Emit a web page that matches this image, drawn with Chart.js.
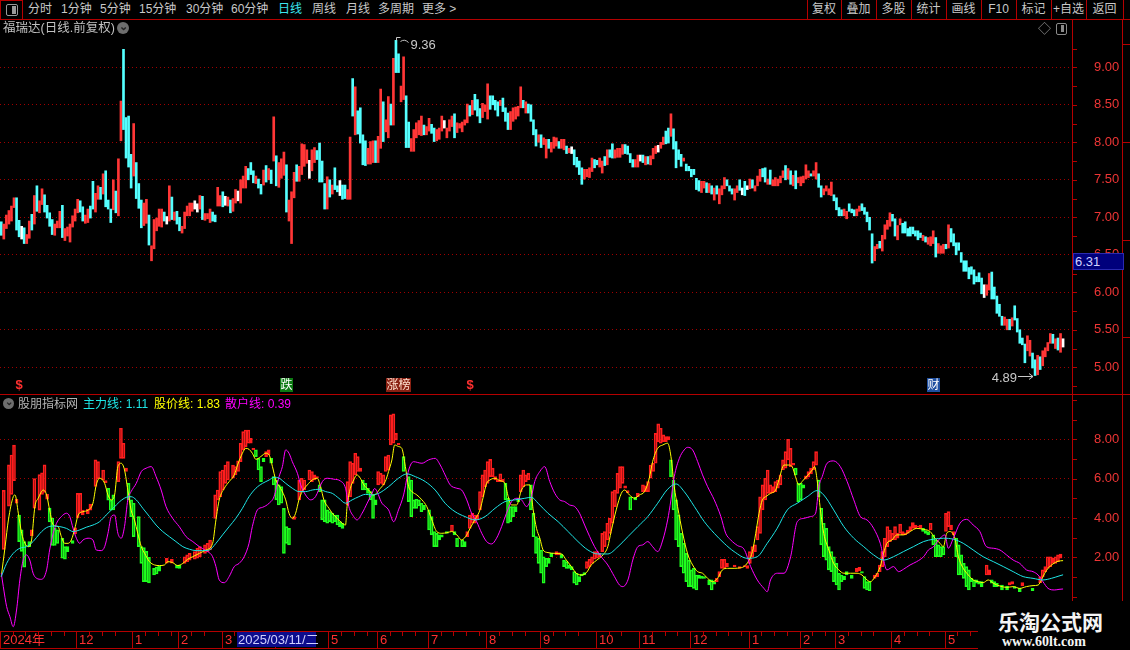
<!DOCTYPE html>
<html>
<head>
<meta charset="utf-8">
<title>福瑞达 日线</title>
<script src="https://cdn.jsdelivr.net/npm/chart.js@4.4.1/dist/chart.umd.min.js"></script>
<style>
  body { margin: 0; background: #000; }
  #wrap { position: relative; width: 1130px; height: 650px; overflow: hidden; background: #000;
          font-family: "Liberation Sans", "Noto Sans CJK SC", sans-serif; }
  .a { position: absolute; white-space: nowrap; }
  .tb { top: 1px; font-size: 12px; color: #c8c8c8; line-height: 17px; }
  .vl { position: absolute; width: 1px; background: #b40000; }
  .hl { position: absolute; height: 1px; background: #b40000; }
  canvas { position: absolute; left: 0; }
</style>
</head>
<body>
<div id="wrap">
  <canvas id="priceChart" width="1130" height="382" style="top:20px"></canvas>
  <canvas id="indChart" width="1130" height="250" style="top:387px"></canvas>
  <div id="overlay"></div>
</div>
<script>
// ---- price candles (one per trading day) ----
const dirs =
  "crrrrrccwc" + "rrcrcrrccc" + "crrrcrrrrr" + "rccrrccrrc" + "rcccrcrrcc" +
  "ccrcccrrcr" + "rrrrcwrcrc" + "crrrrrwwrc" + "rrrccrrcwr" + "crrwrrrccc" +
  "rccrcrcrcr" + "rrcrrrcrrr" + "rwrrccccrc" + "rccwccrrc" +
  "rccccrrrcr" + "rcrrcrccrr" + "ccrrrrrcrr" + "ccrrrwrrrc" + "rrrrrcrccc" +
  "rrrccccrcc" + "crrrrrcrcc" + "ccrcrrcrrr" + "crrcrwcccc" + "rrrrccrrcr" +
  "ccrrrrcccc" + "rrwcrcrrrw" + "rrccrccccr" + "ccccccrrcrc" +
  "rcrrrcccrr" + "cwcwrcrrrc" + "crcrrrrrcr" + "crcrrrrrcr" + "rccrrrrccc" +
  "crrcccrrcc" + "cccrrcrrrr" + "ccrrcccccc" + "ccrcrrrcrr" + "rcrccccccc" +
  "ccccccwrrc" + "ccccrrcrcc" + "cccrrccrcr" + "rrrcrcrw";

const highs = [
  6.94,6.91,7.03,7.09,7.15,7.26,7.26,6.96,6.88,6.86, 6.77,6.95,7.04,7.29,7.42,7.22,7.38,7.30,7.16,7.06,
  6.97,6.91,6.95,7.08,7.16,6.85,6.87,6.91,7.02,7.11, 7.24,7.22,7.14,7.03,7.11,7.15,7.48,7.32,7.42,7.40,
  7.58,7.62,7.23,7.11,7.50,7.35,7.78,8.55,9.24,8.33, 8.35,7.84,8.25,7.73,7.45,7.23,7.19,7.24,7.03,6.62,
  6.97,6.99,7.11,7.11,7.07,7.01,7.42,7.27,7.07,7.08, 7.00,6.88,7.07,7.15,7.19,7.19,7.22,7.18,7.29,7.28,
  7.05,7.05,7.11,7.07,7.03,7.40,7.29,7.34,7.28,7.27, 7.23,7.25,7.37,7.35,7.50,7.55,7.68,7.65,7.73,7.62,
  7.55,7.51,7.44,7.63,7.69,7.65,7.63,8.34,7.82,7.73, 7.78,7.87,7.70,7.23,7.34,7.60,7.70,7.68,7.98,7.97,
  7.90,7.76,7.90,7.93,7.89,7.99,7.75,7.45,7.54,7.50, 7.43,7.66,7.42,7.49,7.43,7.43,7.37,8.07,8.85,
  8.74,8.42,8.46,8.10,8.02,7.92,8.01,8.02,8.02,8.08, 8.71,8.54,8.30,8.61,8.51,9.12,9.36,9.18,8.75,9.14,
  8.62,8.27,8.05,8.17,8.26,8.29,8.35,8.23,8.21,8.32, 8.24,8.19,8.17,8.19,8.35,8.29,8.19,8.30,8.35,8.38,
  8.26,8.25,8.27,8.30,8.51,8.49,8.56,8.64,8.57,8.45, 8.52,8.50,8.78,8.62,8.62,8.56,8.54,8.56,8.59,8.46,
  8.39,8.41,8.46,8.47,8.48,8.74,8.56,8.54,8.51,8.50, 8.30,8.17,8.10,8.10,8.06,8.04,8.04,8.00,8.07,8.06,
  8.01,8.04,8.04,7.95,7.92,7.94,7.90,7.80,7.75,7.66, 7.64,7.64,7.66,7.79,7.77,7.76,7.79,7.75,7.81,7.90,
  7.90,7.98,7.90,7.92,7.92,7.97,7.97,7.95,7.85,7.77, 7.77,7.83,7.83,7.83,7.81,7.81,7.82,7.92,7.95,7.96,
  8.00,8.07,8.15,8.19,8.38,8.18,8.01,7.90,7.84,7.79, 7.71,7.68,7.64,7.64,7.52,7.49,7.48,7.48,7.46,7.45,7.42,
  7.39,7.42,7.38,7.42,7.53,7.50,7.42,7.38,7.38,7.42, 7.50,7.39,7.48,7.42,7.51,7.50,7.42,7.55,7.64,7.65,
  7.66,7.51,7.63,7.50,7.53,7.51,7.55,7.62,7.69,7.65, 7.62,7.56,7.62,7.53,7.54,7.55,7.70,7.62,7.58,7.62,
  7.73,7.58,7.42,7.38,7.42,7.38,7.47,7.30,7.26,7.13, 7.10,7.11,7.08,7.18,7.11,7.10,7.11,7.15,7.18,7.13,
  7.07,7.00,6.78,6.61,6.64,6.68,6.76,6.90,6.96,7.06, 7.04,6.98,6.89,6.98,6.92,6.94,6.85,6.87,6.87,6.82,
  6.82,6.79,6.76,6.74,6.73,6.74,6.82,6.73,6.65,6.62, 6.64,6.64,6.90,6.85,6.78,6.66,6.66,6.53,6.42,6.42,
  6.33,6.34,6.30,6.21,6.26,6.19,6.10,6.10,6.25,6.27, 6.07,5.95,5.84,5.68,5.67,5.64,5.64,5.66,5.82,5.65,
  5.50,5.39,5.31,5.42,5.36,5.19,5.10,5.16,5.14,5.22, 5.26,5.33,5.45,5.44,5.38,5.39,5.45,5.38
];

const lows = [
  6.76,6.71,6.85,6.91,6.95,7.13,6.83,6.74,6.71,6.65, 6.65,6.72,6.83,6.91,7.08,7.06,7.17,7.07,6.99,6.88,
  6.77,6.76,6.86,6.86,6.73,6.69,6.75,6.67,6.87,6.95, 7.06,7.07,6.95,6.92,6.93,6.99,7.11,7.07,7.24,7.24,
  7.31,7.14,7.11,6.93,7.10,7.06,7.02,8.02,8.17,7.79, 7.67,7.39,7.55,7.25,7.12,6.86,6.89,6.92,6.63,6.42,
  6.58,6.82,6.88,6.87,6.95,6.91,6.95,6.97,6.96,6.91, 6.82,6.79,6.85,7.02,7.02,7.08,7.11,7.07,7.11,6.97,
  6.96,6.98,6.93,6.95,6.94,7.15,7.15,7.14,7.16,7.15, 7.06,7.08,7.19,7.22,7.19,7.39,7.39,7.50,7.57,7.46,
  7.45,7.39,7.31,7.43,7.47,7.50,7.45,7.75,7.42,7.40, 7.52,7.56,7.07,6.95,6.65,7.26,7.48,7.48,7.57,7.68,
  7.72,7.52,7.62,7.73,7.77,7.47,7.47,7.11,7.11,7.27, 7.31,7.37,7.34,7.29,7.24,7.25,7.24,7.24,8.35,
  8.10,8.11,7.99,7.70,7.69,7.71,7.71,7.73,7.73,7.73, 7.92,8.01,8.14,8.06,8.23,8.23,8.93,8.93,8.54,8.57,
  7.93,7.93,7.88,7.88,8.06,8.10,8.09,8.10,8.10,8.15, 8.12,8.01,8.02,8.04,8.15,8.19,8.06,8.15,8.21,8.06,
  8.13,8.19,8.14,8.23,8.26,8.35,8.37,8.43,8.35,8.26, 8.33,8.41,8.31,8.44,8.50,8.43,8.35,8.49,8.41,8.28,
  8.17,8.17,8.28,8.31,8.35,8.46,8.46,8.39,8.39,8.28, 8.10,7.95,8.00,7.93,7.97,7.79,7.92,7.87,7.92,7.95,
  7.92,7.92,7.90,7.85,7.86,7.85,7.70,7.67,7.57,7.44, 7.51,7.54,7.53,7.61,7.66,7.70,7.67,7.59,7.69,7.70,
  7.80,7.79,7.79,7.80,7.80,7.84,7.85,7.84,7.73,7.67, 7.67,7.67,7.75,7.73,7.70,7.71,7.70,7.78,7.85,7.87,
  7.92,7.97,7.98,7.99,8.08,7.91,7.66,7.77,7.68,7.75, 7.62,7.62,7.54,7.57,7.37,7.35,7.33,7.39,7.33,7.33,7.31,
  7.23,7.31,7.18,7.30,7.38,7.42,7.35,7.31,7.23,7.33, 7.36,7.30,7.29,7.37,7.38,7.39,7.35,7.42,7.48,7.54,
  7.47,7.44,7.44,7.42,7.42,7.42,7.46,7.53,7.50,7.51, 7.44,7.42,7.38,7.46,7.42,7.46,7.51,7.53,7.55,7.55,
  7.51,7.40,7.27,7.30,7.35,7.30,7.29,7.22,7.10,7.02, 7.02,7.02,6.98,7.08,7.06,7.02,7.02,7.08,7.09,7.04,
  6.94,6.83,6.39,6.42,6.58,6.59,6.55,6.71,6.84,6.88, 6.95,6.75,6.70,6.90,6.79,6.79,6.75,6.75,6.78,6.75,
  6.70,6.73,6.69,6.67,6.64,6.62,6.65,6.47,6.52,6.52, 6.52,6.58,6.59,6.67,6.62,6.50,6.56,6.40,6.28,6.28,
  6.18,6.24,6.11,6.14,6.14,5.98,5.93,5.96,6.03,5.91, 5.91,5.72,5.68,5.56,5.56,5.50,5.50,5.55,5.63,5.47,
  5.32,5.30,5.06,5.22,5.15,4.99,4.89,4.90,4.97,5.02, 5.14,5.22,5.32,5.32,5.25,5.23,5.20,5.27
];

// ---- indicator lines: [candle index, value] ----
const mainForce = [ // 主力线
  [0,1.02],[2.1,1.69],[4.7,2.2],[7.3,2.46],[9.9,2.54],[12.5,2.8],[15.2,3.22],[17.8,3.51],[20.4,3.59],[23,3.56],
  [25.6,3.47],[28.2,3.31],[30.8,3.39],[33.4,3.53],[36,3.64],[38.6,3.81],[41.2,4.15],[43.9,4.49],[46.5,4.83],[49.1,5.05],
  [51,5.08],[53,4.92],[55.6,4.49],[58.2,4.07],[60.8,3.64],[63.4,3.31],[66,3.05],[68.6,2.8],[71.3,2.54],[73.9,2.41],
  [76.5,2.34],[79.1,2.34],[81.7,2.37],[84.3,2.71],[86.9,3.14],[89.5,3.56],[92.1,3.98],[94.7,4.49],[97.3,5.08],[100,5.51],
  [102.6,5.76],[105.2,5.93],[107.1,6.07],[109.1,6.02],[111.7,5.76],[114.3,5.51],[116.9,5.34],[119.5,5.34],[122.1,5.42],[124.7,5.46],
  [127.4,5.34],[130,5.25],[132.6,5.0],[135.2,4.75],[137.8,4.92],[140.4,5.08],[143,5.2],[145.6,5.17],[148.2,5.25],[152.1,5.59],
  [156,6.02],[159.3,6.24],[162.6,6.1],[166.5,5.85],[170.4,5.42],[174.3,4.75],[178.2,4.32],[182.1,4.07],[186.1,3.9],[190,4.07],
  [193.9,4.49],[197.8,4.83],[201.7,4.92],[205.6,5.0],[208.2,5.05],[210.8,4.75],[214.7,4.24],[218.7,3.81],[222.6,3.31],[226.5,2.8],
  [230.4,2.37],[234.3,2.17],[238.2,2.17],[242.2,2.54],[246.1,3.05],[250,3.56],[253.9,4.07],[257.8,4.75],[261.7,5.46],[265,5.73],
  [268.2,5.34],[272.2,4.58],[276.1,3.81],[280,3.22],[283.9,2.71],[287.8,2.29],[293,1.95],[296.9,2.03],[300.8,2.71],[304.7,3.47],
  [308.7,4.41],[312.6,4.75],[316.5,5.08],[320.4,5.39],[323,5.17],[326.9,4.41],[330.9,3.56],[334.8,2.97],[338.7,2.54],[342.6,2.12],
  [346.5,1.86],[350.4,2.03],[354.3,2.29],[358.2,2.54],[362.2,2.8],[366.1,2.92],[370,2.97],[373.9,2.92],[377.8,2.71],[381.7,2.37],
  [385.6,2.03],[389.6,1.78],[393.5,1.53],[397.4,1.27],[401.3,1.02],[405.2,0.93],[409.1,0.85],[412.4,0.93],[415.4,1.05],[417,1.11]
];

const stockLine = [ // 股价线
  [0,1.02],[1.5,2.54],[2.8,3.9],[4.7,5.08],[5.4,5.17],[6.7,4.24],[8,3.22],[9.3,2.71],[10.6,2.54],[11.9,2.88],
  [13.2,4.58],[14.5,5.0],[16.5,5.42],[17.8,5.17],[19,4.4],[20.4,3.64],[22.3,3.56],[23.6,3.05],[24.9,2.71],[26.2,2.71],
  [27.5,2.88],[28.9,3.47],[30.2,4.15],[32.1,4.32],[34.1,4.4],[36,4.75],[37.3,5.68],[38.6,6.02],[40.6,5.76],[41.9,5.17],
  [43.2,4.92],[44.5,5.17],[45.8,6.61],[47.1,6.78],[48.4,6.44],[49.7,5.42],[51,4.4],[52.3,3.9],[53.6,3.22],[55,2.54],
  [56.3,2.2],[58.2,1.78],[60.2,1.61],[62.1,1.58],[64.1,1.61],[65.4,1.78],[67.3,1.73],[69.3,1.58],[71.3,1.69],[73.2,1.9],
  [75.2,2.03],[77.8,2.2],[80.4,2.37],[83,2.71],[84.3,3.9],[85.6,4.92],[87.6,5.51],[89.5,5.85],[91.5,6.19],[92.8,6.69],
  [94.7,7.29],[96,7.54],[97.3,7.49],[98.6,7.29],[100,6.98],[101.9,7.12],[103.9,7.29],[105.2,7.2],[106.5,6.61],[107.8,5.93],
  [109.7,5.51],[111.7,4.92],[113,4.24],[114.3,3.98],[115.6,4.24],[116.9,4.92],[118.2,5.34],[120.2,5.68],[122.1,5.93],[124.1,6.02],
  [125.4,5.59],[126.7,4.92],[128.7,4.49],[130,4.24],[131.9,3.98],[133.9,3.73],[135.2,3.64],[135.8,4.58],[137.1,5.51],[138.4,5.93],
  [139.7,6.19],[141,6.02],[142.4,5.68],[144.3,5.42],[146.3,5.17],[148.9,5.51],[150.8,5.85],[152.1,6.36],[153.4,6.95],[154.5,7.71],
  [156,7.63],[157.3,7.54],[158.7,6.61],[160,5.59],[161.3,5.34],[163.2,5.17],[165.2,4.92],[167.1,4.58],[169.1,3.9],[171,3.31],
  [173,3.22],[175,3.25],[176.9,3.31],[178.9,3.14],[180.8,2.88],[182.8,3.14],[184.1,3.47],[186.1,3.93],[188,4.41],[189.3,5.08],
  [190.6,5.76],[191.9,5.93],[193.9,6.02],[195.8,5.9],[197.8,5.76],[199.1,5.08],[200.4,4.66],[202.4,4.66],[204.3,5.42],[206.3,5.68],
  [207.6,5.68],[208.9,4.41],[210.2,3.47],[211.5,2.97],[212.8,2.37],[214.7,2.24],[217.4,2.2],[220,2.17],[221.9,1.86],[223.9,1.53],
  [225.8,1.19],[227.8,1.1],[229.8,1.22],[231.7,1.61],[234.3,1.9],[236.3,2.12],[238.2,2.54],[239.5,3.31],[241.5,4.41],[243.5,5.25],
  [244.8,5.42],[246.7,5.17],[248.7,5.0],[250.6,5.17],[252.6,5.34],[254.5,6.02],[255.8,6.86],[257.8,7.54],[259.8,7.71],[261.7,7.8],
  [263,7.12],[264.3,5.59],[265.6,4.58],[267.6,3.22],[269.5,2.2],[271.5,1.61],[273.5,1.27],[275.4,1.19],[277.4,0.93],[279.3,0.76],
  [281.3,0.93],[283.2,1.36],[285.2,1.44],[287.8,1.44],[290.4,1.47],[291.7,1.53],[293.7,1.86],[295,2.29],[296.3,3.22],[297.6,4.24],
  [298.9,4.92],[300.2,5.08],[302.1,5.25],[304.1,5.42],[305.4,5.93],[307.4,6.69],[309.3,6.69],[310.6,6.61],[311.9,6.1],[313.2,5.68],
  [314.5,5.85],[316.5,6.14],[318.5,6.44],[319.4,6.61],[320.4,5.93],[321.7,4.41],[323,3.22],[325,2.37],[326.9,1.69],[328.9,1.36],
  [330.9,1.19],[333.5,1.19],[336.1,1.19],[338,1.1],[340,0.85],[341.3,0.76],[343.2,1.02],[345.2,1.53],[346.5,2.2],[347.8,2.71],
  [349.8,2.88],[351.7,3.14],[354.3,3.14],[356.9,3.31],[359.5,3.47],[362.2,3.42],[364.8,3.31],[366.7,2.97],[368.7,2.71],[370,2.54],
  [371.3,3.22],[372.6,3.31],[374.5,2.97],[375.9,2.03],[377.8,1.44],[379.8,1.1],[381.7,0.85],[383.7,0.76],[385.6,0.71],[387.6,0.85],
  [389.6,0.68],[392.2,0.54],[394.8,0.47],[397.4,0.51],[400,0.42],[402.6,0.51],[405.2,0.56],[407.2,0.59],[408.5,0.85],[409.8,1.19],
  [411.1,1.44],[413,1.66],[415,1.8],[417,1.83]
];

const retailLine = [ // 散户线
  [0,1.19],[0.8,0.51],[2.1,-0.5],[3.4,-1.02],[4.7,-1.53],[6,-0.68],[7.3,0.85],[8.6,1.86],[9.9,2.12],[11.2,1.86],
  [12.5,1.19],[13.9,0.93],[15.8,0.88],[17.8,1.36],[19,2.37],[20.4,3.22],[21.7,3.73],[23.6,4.07],[25.6,4.24],[26.9,4.07],
  [28.2,3.47],[29.5,2.97],[30.8,2.71],[32.1,2.88],[34.1,2.97],[36,2.88],[37.3,2.37],[39.3,2.34],[40.6,2.54],[41.9,3.22],
  [43.2,4.07],[44.5,4.15],[45.8,3.22],[47.1,2.97],[48.4,3.56],[49.7,4.92],[51,5.34],[53,5.76],[55,6.36],[56.9,6.53],
  [58.9,6.61],[60.8,6.1],[62.8,5.42],[64.7,4.58],[67.3,3.98],[69.9,3.56],[72.6,3.05],[75.2,2.8],[77.8,2.54],[80.4,2.34],
  [83,2.03],[84.3,1.53],[85.6,0.85],[87.6,0.71],[89.5,1.02],[91.5,1.53],[93.4,1.69],[95.4,2.03],[97.3,2.71],[98.6,3.56],
  [100.6,4.41],[102.6,4.54],[105.2,4.75],[107.1,5.08],[109.1,6.1],[110.4,6.61],[111.7,7.46],[113,7.29],[114.3,6.86],[116.3,6.27],
  [117.6,5.68],[119.5,5.17],[121.5,4.92],[123.4,5.08],[126.1,5.85],[128,6.02],[130.6,5.97],[133.2,5.88],[135.2,5.51],[136.5,4.58],
  [138.4,4.07],[139.7,3.9],[141.7,4.24],[143.7,4.75],[145.6,5.25],[146.6,5.5],[149.5,4.75],[152.1,4.41],[154.1,3.81],[156,4.41],
  [158,5.17],[160,6.44],[161.9,6.86],[165.2,6.78],[167.8,6.95],[170.4,7.03],[172.4,6.69],[174.3,6.19],[176.3,5.68],[178.9,5.51],
  [180.8,5.42],[182.8,4.92],[184.7,4.24],[186.7,3.81],[188.7,3.22],[190.6,2.8],[192.6,2.68],[194.5,2.97],[196.5,3.56],[198.4,4.24],
  [200.4,4.83],[202.4,5.0],[204.3,4.92],[206.3,4.58],[208.2,5.08],[209.5,5.85],[211.5,6.36],[213.4,6.61],[215.4,5.85],[217.4,5.25],
  [219.3,4.92],[221.3,4.83],[223.2,4.66],[225.2,4.58],[227.1,4.24],[229.1,3.64],[231.1,3.05],[233,2.54],[235.6,2.03],[238.2,1.61],
  [240.8,1.02],[242.8,0.59],[244.1,0.51],[246.1,0.85],[248,1.86],[250,2.54],[251.9,2.63],[253.9,2.8],[255.8,2.54],[257.8,2.29],
  [259.8,2.88],[261.7,3.9],[263,4.92],[264.3,6.1],[266.3,7.03],[268.2,7.46],[269.5,7.59],[271.5,7.46],[273.5,6.86],[275.4,6.19],
  [277.4,5.59],[280,4.92],[282.6,4.07],[284.5,3.22],[286.5,2.88],[289.1,2.6],[291.7,2.41],[294.3,1.53],[296.9,0.85],[299.5,0.42],
  [300.8,0.25],[302.1,0.85],[304.8,1.19],[307.4,1.19],[310,2.03],[312.6,3.81],[315.2,3.98],[317.8,4.07],[319.8,4.24],[321.1,5.59],
  [322.4,6.1],[324.3,6.78],[326.9,6.9],[329.5,6.61],[332.2,5.85],[334.8,4.92],[337.4,4.07],[340,3.9],[342.6,3.47],[345.2,2.71],
  [347.8,1.36],[350.4,1.53],[352.4,1.27],[354.3,1.39],[356.9,1.61],[359.5,1.78],[362.2,2.03],[364.1,2.37],[366.1,2.54],[368.7,2.97],
  [370.6,3.14],[371.9,2.46],[373.9,2.97],[376.5,3.73],[379.1,3.93],[381.7,3.64],[384.3,3.31],[386.9,2.54],[389.6,2.46],[392.2,2.37],
  [394.8,2.12],[397.4,1.86],[400,1.69],[402.6,1.36],[405.2,1.27],[407.2,1.1],[409.1,0.76],[411.1,0.42],[413.7,0.34],[415.4,0.37],
  [417,0.39]
];

// ---- indicator bars: [candle index, low, high] ----
const redBars = [
  [1,2.4,5.4],[3,4.6,6.7],[4,5.2,7.2],[5,5.9,7.7],[6,4.75,4.95],[12,3.1,3.4],[13,4.5,6.0],[15,4.4,6.2],[16,5.2,6.3],[17,5.3,6.7],
  [18,4.95,5.2],[29,3.2,3.5],[30,4.0,5.25],[31,4.24,5.25],[32,4.15,4.4],[34,4.2,4.45],[35,4.4,4.7],[37,5.6,6.95],[38,6.0,6.86],[40,5.93,6.44],
  [41,5.8,5.9],[46,5.85,6.86],[47,7.03,8.56],[48,7.03,7.8],[49,6.36,6.53],[65,1.7,1.95],[67,1.7,1.9],[72,1.69,2.03],[73,1.78,2.12],[74,1.86,2.2],
  [76,1.9,2.29],[77,1.95,2.46],[78,2.03,2.54],[80,2.2,2.63],[81,2.29,2.71],[82,2.37,2.88],[84,3.98,5.17],[85,4.92,5.42],[86,5.08,6.36],[87,5.42,6.44],
  [88,5.76,6.69],[89,5.93,6.86],[91,6.02,6.69],[92,6.19,6.61],[93,6.36,6.9],[94,6.86,7.8],[95,7.46,8.39],[96,7.63,8.47],[97,7.8,8.47],[98,7.8,8.05],
  [99,7.46,7.54],[104,7.12,7.37],[105,7.2,7.46],[115,3.93,4.07],[117,4.92,5.93],[118,5.34,6.02],[119,5.42,5.93],[121,5.93,6.44],[122,5.85,6.36],[123,5.93,6.19],
  [124,6.02,6.1],[136,4.66,5.85],[137,5.08,6.86],[138,5.76,6.78],[139,6.19,7.29],[140,6.36,7.12],[141,6.36,6.53],[148,5.68,6.36],[149,5.76,6.27],[150,5.68,6.19],
  [151,6.36,7.12],[152,6.44,7.2],[153,7.71,9.24],[154,7.8,9.29],[155,7.97,8.3],[156,7.71,7.8],[177,3.31,3.64],[183,3.05,3.31],[184,3.47,4.15],[185,3.73,4.24],
  [186,3.73,4.15],[187,3.9,4.15],[188,4.41,5.34],[189,5.08,6.19],[190,5.59,6.44],[191,5.76,6.86],[192,6.1,6.98],[193,6.1,6.53],[194,5.93,6.1],[195,5.85,5.93],
  [196,5.85,6.24],[197,5.85,5.97],[204,5.34,6.19],[205,5.59,6.44],[206,5.85,6.19],[207,5.93,6.27],[218,2.12,2.29],[219,2.12,2.24],[230,1.44,1.78],[231,1.53,1.9],
  [232,1.69,2.03],[233,1.9,2.29],[234,1.95,2.29],[235,2.03,2.2],[236,2.29,3.22],[237,2.54,3.31],[238,2.88,3.73],[239,3.22,3.98],[240,3.73,5.34],[241,4.58,5.42],
  [242,5.25,6.27],[243,5.51,6.61],[244,5.76,6.61],[245,5.51,5.63],[246,5.29,5.39],[250,5.08,5.25],[252,5.34,5.68],[253,5.34,5.63],[254,5.34,5.85],[255,6.02,6.69],
  [256,6.36,6.78],[257,6.78,8.3],[258,7.88,8.78],[259,7.8,8.56],[260,7.88,8.22],[261,7.88,8.14],[262,7.97,8.14],[281,0.76,0.93],[282,1.02,1.27],[283,1.44,1.9],
  [284,1.44,1.9],[285,1.53,1.69],[288,1.53,1.61],[290,1.44,1.53],[292,1.53,1.58],[293,1.44,1.58],[294,1.69,2.29],[295,2.03,2.54],[296,2.29,2.63],[297,2.88,3.56],
  [298,3.22,5.08],[299,4.41,5.68],[300,4.92,6.02],[301,5.25,6.44],[302,5.25,5.68],[303,5.29,5.59],[304,5.34,5.85],[305,5.51,5.93],[306,5.68,6.19],[307,6.44,6.95],
  [308,6.53,7.37],[309,6.95,8.0],[310,6.61,7.54],[311,6.69,6.78],[316,5.97,6.14],[317,6.07,6.36],[318,6.24,6.53],[319,6.44,6.86],[320,6.69,7.37],[336,1.27,1.44],
  [337,1.32,1.49],[343,0.93,1.1],[344,1.02,1.19],[345,1.27,1.61],[346,1.53,2.29],[347,2.03,2.97],[348,2.54,3.56],[349,2.8,3.39],[350,2.88,3.22],[351,2.88,3.56],
  [352,2.97,3.22],[353,3.22,3.69],[354,3.14,3.31],[355,3.14,3.25],[356,3.22,3.39],[357,3.36,3.56],[358,3.47,3.76],[359,3.47,3.64],[360,3.53,3.59],[361,3.47,3.64],
  [365,3.39,3.73],[371,3.31,4.24],[372,3.56,4.32],[373,3.39,3.64],[374,3.14,3.31],[387,1.1,1.61],[388,1.1,1.36],[396,0.59,0.71],[397,0.64,0.76],[401,0.54,0.71],
  [408,0.71,1.02],[409,1.02,1.36],[410,1.27,1.53],[411,1.44,2.03],[412,1.53,2.03],[413,1.69,1.95],[414,1.69,2.03],[415,1.78,2.12],[416,1.95,2.17]
];

const greenBars = [
  [7,2.8,4.15],[8,2.3,3.4],[9,1.5,2.8],[11,2.54,2.8],[19,3.8,4.5],[20,2.6,4.0],[21,2.6,3.5],[22,2.7,3.4],[24,1.95,2.97],[25,1.9,2.54],
  [26,2.29,2.54],[28,2.7,2.85],[42,4.9,5.5],[43,4.4,4.9],[44,4.41,5.17],[50,4.92,5.76],[51,4.07,4.92],[52,3.05,4.75],[54,2.54,4.07],[55,1.69,2.54],
  [56,0.76,2.5],[57,0.76,2.3],[58,0.7,2.0],[60,1.1,1.44],[61,1.15,1.5],[62,1.3,1.55],[69,1.45,1.6],[70,1.44,1.6],[100,7.12,7.46],[101,6.44,7.03],
  [102,5.85,6.61],[103,6.86,7.03],[106,6.78,7.03],[107,5.68,6.1],[108,4.92,5.93],[109,4.66,5.68],[110,4.75,5.59],[111,2.2,4.49],[112,2.71,3.56],[113,2.63,3.47],
  [125,5.34,5.68],[126,3.9,4.92],[127,3.81,4.92],[128,3.73,4.41],[129,3.81,4.32],[130,3.73,4.24],[131,3.81,4.15],[132,3.64,4.15],[133,3.56,3.81],[134,3.47,3.73],
  [142,5.42,5.93],[143,5.42,5.76],[144,5.25,5.51],[145,4.92,5.34],[146,3.98,5.17],[147,4.66,4.92],[158,6.36,7.12],[160,4.83,6.1],[161,4.07,5.93],[162,4.49,4.92],
  [163,4.49,4.95],[164,4.61,4.92],[165,4.32,4.75],[166,4.41,4.66],[168,3.39,4.41],[169,3.14,4.07],[170,2.54,3.31],[171,2.54,3.22],[172,2.88,3.14],[173,3.02,3.14],
  [175,3.22,3.31],[178,3.14,3.31],[179,2.54,2.97],[181,2.54,2.88],[182,2.54,2.8],[198,4.92,5.76],[199,3.73,5.0],[200,3.81,4.58],[201,4.07,4.58],[202,4.32,4.58],
  [203,4.83,5.0],[208,4.41,5.68],[209,3.05,4.24],[210,2.2,3.05],[211,1.69,2.97],[212,1.19,2.37],[213,0.68,2.03],[214,1.53,1.95],[215,1.69,1.95],[216,2.03,2.2],
  [220,1.95,2.17],[221,1.53,1.86],[222,1.44,1.78],[223,1.44,1.61],[224,1.36,1.53],[225,0.68,1.27],[226,0.59,1.19],[227,0.76,1.02],[228,1.05,1.15],[229,1.1,1.22],
  [247,4.41,5.08],[249,4.92,5.05],[263,6.1,6.95],[264,4.41,5.93],[265,2.88,4.92],[266,2.54,4.15],[267,1.53,3.22],[268,1.19,2.71],[269,0.76,2.2],[270,0.51,1.86],
  [271,0.51,1.36],[272,0.42,1.44],[273,0.34,1.1],[274,0.93,1.1],[275,0.93,1.05],[276,0.93,1.02],[278,0.59,0.85],[279,0.34,0.85],[280,0.64,0.76],[312,6.19,6.53],
  [313,4.83,5.76],[314,4.92,5.76],[315,5.51,5.68],[321,5.08,5.93],[322,2.63,4.49],[323,2.03,3.73],[324,1.86,3.47],[325,1.36,2.54],[326,1.27,2.29],[327,0.76,2.03],
  [328,0.59,1.69],[329,0.34,1.19],[330,0.76,1.1],[331,0.85,1.05],[332,1.1,1.27],[334,0.93,1.1],[338,1.19,1.27],[339,0.42,1.02],[340,0.34,0.76],[341,0.3,0.76],
  [362,3.31,3.47],[363,3.22,3.36],[364,3.14,3.31],[366,2.63,3.14],[367,2.03,2.88],[368,2.03,2.63],[369,2.03,2.54],[370,2.12,2.54],[375,2.03,2.97],[376,1.1,2.63],
  [377,1.1,2.12],[378,0.93,1.69],[379,0.51,1.53],[380,0.34,1.36],[381,0.76,0.93],[382,0.51,0.85],[383,0.68,0.85],[384,0.64,0.76],[385,0.51,0.76],[389,0.68,0.85],
  [390,0.51,0.76],[391,0.51,0.68],[393,0.34,0.59],[395,0.34,0.54],[398,0.42,0.51],[400,0.25,0.42],[405,0.3,0.42]
];

// ---- time axis: first candle of each month ----
const monthStarts = [0, 30, 52, 70, 87, 108, 129, 148, 168, 191, 212, 234, 251, 271, 294, 314, 328, 350, 371];
const monthLabels = ['2024年','12','1','2','3','4','5','6','7','8','9','10','11','12','1','2','3','4','5'];

// event flags above the indicator panel
const events = [[7,'$','d'],[112,'跌','g'],[156,'涨榜','h'],[184,'$','d'],[366,'财','b']];
const cursorIdx = 93, cursorDate = '2025/03/11/二', cursorPrice = 6.31;

const RED_LINE = '#b40000';
const AXIS_TXT = '#ee3535';
const DOT = '#a00000';
const X_MIN = -0.5, X_MAX = 420.5;

function makeTicks(from, to, step) {
  const t = [];
  for (let v = from; v <= to + 1e-9; v += step) t.push({ value: Math.round(v * 100) / 100 });
  return t;
}
const isHalf = v => Math.abs(v * 2 - Math.round(v * 2)) < 1e-6;

// short red tick marks just right of the value axis line
const tickMarks = {
  id: 'tickMarks',
  afterDraw(chart) {
    const s = chart.scales.y, ctx = chart.ctx;
    ctx.save();
    ctx.strokeStyle = RED_LINE;
    ctx.lineWidth = 1;
    ctx.beginPath();
    s.ticks.forEach(t => {
      const y = Math.round(s.getPixelForValue(t.value)) + 0.5;
      ctx.moveTo(s.left, y);
      ctx.lineTo(s.left + 5, y);
    });
    ctx.stroke();
    ctx.restore();
  }
};

function valueAxis(min, max, ticks, labelled) {
  return {
    position: 'right',
    min: min, max: max,
    afterBuildTicks: s => { s.ticks = ticks; },
    afterFit: s => { s.width = 58; },
    grid: {
      color: c => labelled(c.tick.value) ? DOT : 'rgba(0,0,0,0)',
      tickColor: 'rgba(0,0,0,0)', tickLength: 22, lineWidth: 1
    },
    border: { display: false, dash: [1, 3] },
    ticks: {
      color: AXIS_TXT, padding: 0,
      font: { family: 'Liberation Sans', size: 13 },
      callback: v => labelled(v) ? v.toFixed(2) : ''
    }
  };
}

// ---------- price chart ----------
const candleColor = { r: '#ff3636', c: '#54ffff', w: '#ffffff' };
const n = Math.min(highs.length, lows.length, dirs.length);
const candles = [], candleColors = [];
for (let i = 0; i < n; i++) {
  candles.push({ x: i, y: [lows[i], highs[i]] });
  candleColors.push(candleColor[dirs[i]]);
}

const extremes = {
  id: 'extremes',
  afterDatasetsDraw(chart) {
    const { ctx, scales: { x, y } } = chart;
    let hi = 0, lo = 0;
    for (let i = 0; i < n; i++) {
      if (highs[i] > highs[hi]) hi = i;
      if (lows[i] < lows[lo]) lo = i;
    }
    ctx.save();
    ctx.strokeStyle = '#c8c8c8';
    ctx.fillStyle = '#c8c8c8';
    ctx.lineWidth = 1;
    ctx.font = '13px "Liberation Sans"';
    ctx.textBaseline = 'middle';

    const hx = Math.round(x.getPixelForValue(hi)) + 0.5, hy = Math.round(y.getPixelForValue(highs[hi])) + 0.5;
    ctx.beginPath();
    ctx.moveTo(hx, hy); ctx.lineTo(hx, hy - 3); ctx.lineTo(hx + 4, hy - 3);
    ctx.moveTo(hx + 4, hy + 1); ctx.quadraticCurveTo(hx + 8, hy - 2, hx + 12, hy + 2);
    ctx.stroke();
    ctx.textAlign = 'left';
    ctx.fillText(highs[hi].toFixed(2), hx + 14, hy + 5);

    const lx = Math.round(x.getPixelForValue(lo)), ly = Math.round(y.getPixelForValue(lows[lo])) + 0.5;
    ctx.beginPath();
    ctx.moveTo(lx - 17, ly); ctx.lineTo(lx - 2, ly);
    ctx.moveTo(lx - 6, ly - 3); ctx.lineTo(lx - 2, ly); ctx.lineTo(lx - 6, ly + 3);
    ctx.stroke();
    ctx.textAlign = 'right';
    ctx.fillText(lows[lo].toFixed(2), lx - 18, ly + 2);
    ctx.restore();
  }
};

const priceChart = new Chart(document.getElementById('priceChart'), {
  type: 'bar',
  data: {
    datasets: [{
      data: candles,
      backgroundColor: candleColors,
      barThickness: 2,
      grouped: false
    }]
  },
  options: {
    responsive: false,
    animation: false,
    events: [],
    layout: { padding: { left: 0, right: 0, top: 15, bottom: 9 } },
    plugins: { legend: { display: false }, tooltip: { enabled: false } },
    scales: {
      x: { type: 'linear', min: X_MIN, max: X_MAX, offset: false, display: false },
      y: valueAxis(4.657, 9.431, makeTicks(4.75, 9.25, 0.25), isHalf)
    }
  },
  plugins: [extremes, tickMarks]
});

// ---------- indicator chart ----------
const pts = arr => arr.map(p => ({ x: p[0], y: p[1] }));
const barFill = col => c => (c.raw && c.raw.y[1] - c.raw.y[0] < 0.3) ? col : 'rgba(0,0,0,0)';
const lineDs = (arr, col) => ({
  type: 'line', data: pts(arr), borderColor: col, borderWidth: 1,
  pointRadius: 0, cubicInterpolationMode: 'monotone', order: 1
});
const barDs = (arr, col) => ({
  type: 'bar', data: arr.map(b => ({ x: b[0], y: [b[1], b[2]] })),
  borderColor: col, borderWidth: 1, borderSkipped: false,
  backgroundColor: barFill(col), barThickness: 3, grouped: false, order: 2
});
const evenLabel = v => [2, 4, 6, 8].includes(v);

const indChart = new Chart(document.getElementById('indChart'), {
  type: 'bar',
  data: {
    datasets: [
      barDs(redBars, '#ff1e1e'),
      barDs(greenBars, '#1eff1e'),
      lineDs(mainForce, '#1ee6e6'),
      lineDs(retailLine, '#ff00ff'),
      lineDs(stockLine, '#ffff00')
    ]
  },
  options: {
    responsive: false,
    animation: false,
    events: [],
    layout: { padding: { left: 0, right: 0, top: 9, bottom: 9 } },
    plugins: { legend: { display: false }, tooltip: { enabled: false } },
    scales: {
      x: { type: 'linear', min: X_MIN, max: X_MAX, offset: false, display: false },
      y: valueAxis(-1.594, 10.2, makeTicks(0, 10, 1), evenLabel)
    }
  },
  plugins: [tickMarks]
});

// ---------- HTML chrome: toolbar, titles, axes, labels ----------
const ov = document.getElementById('overlay');
function el(html, style, cls) {
  const d = document.createElement('div');
  d.className = cls || 'a';
  d.innerHTML = html;
  Object.assign(d.style, style);
  ov.appendChild(d);
  return d;
}
const vline = (x, y0, y1, c) => el('', { left: x + 'px', top: y0 + 'px', height: (y1 - y0) + 'px', background: c || RED_LINE }, 'vl');
const hline = (x0, x1, y, c) => el('', { left: x0 + 'px', top: y + 'px', width: (x1 - x0) + 'px', background: c || RED_LINE }, 'hl');

// toolbar
hline(0, 1130, 19);
vline(0, 0, 19); vline(22, 0, 19); hline(0, 22, 0);
el('', { left: '6px', top: '4px', width: '10px', height: '10px', border: '1px solid #9a9a9a', borderRadius: '2px' });
el('', { left: '12px', top: '6px', width: '4px', height: '8px', background: '#9a9a9a' });
const leftTabs = [['分时',28],['1分钟',61],['5分钟',100],['15分钟',139],['30分钟',186],['60分钟',231],
                  ['日线',278],['周线',312],['月线',346],['多周期',378],['更多 &gt;',422]];
leftTabs.forEach(t => el(t[0], { left: t[1] + 'px', color: t[0] === '日线' ? '#3ce6f0' : '#c8c8c8' }, 'a tb'));
const rightTabs = ['复权','叠加','多股','统计','画线','F10','标记','+自选','返回'];
const tabEdges = [807, 841, 876, 911, 946, 981, 1016, 1051, 1086, 1123];
tabEdges.forEach(x => vline(x, 0, 19));
rightTabs.forEach((t, k) => el(t, { left: tabEdges[k] + 'px', width: (tabEdges[k + 1] - tabEdges[k]) + 'px', textAlign: 'center' }, 'a tb'));

// title row
el('福瑞达(日线.前复权)', { left: '3px', top: '20px', fontSize: '12.5px', color: '#c0c0c0', lineHeight: '17px' });
el('&#8964;', { left: '117px', top: '22px', width: '12px', height: '12px', borderRadius: '6px', background: '#6e6e6e',
                color: '#222', fontSize: '11px', lineHeight: '9px', textAlign: 'center', fontWeight: 'bold' });
el('&#9671;', { left: '1038px', top: '20px', fontSize: '13px', color: '#8a8a8a', lineHeight: '17px' });
el('', { left: '1056px', top: '23px', width: '9px', height: '10px', border: '1px solid #8a8a8a', borderRadius: '2px' });
el('', { left: '1061px', top: '25px', width: '3px', height: '7px', background: '#8a8a8a' });

// panel frames
vline(1072, 19, 630);
vline(1122, 19, 630);
[44, 142, 240, 337].forEach(y => hline(1123, 1130, y));
hline(0, 1130, 394);

// price cursor label
el(cursorPrice.toFixed(2), { left: '1073px', top: '253px', width: '48px', height: '15px', background: '#00007c',
  border: '1px solid #2a2ab0', color: '#d0d0ff', fontSize: '13px', lineHeight: '15px', paddingLeft: '1px' });

// event flags
const px = priceChart.scales.x;
const flagStyle = {
  d: { color: '#ff3030', fontWeight: 'bold', fontSize: '13px' },
  g: { background: '#0c7a12', color: '#ffffff', fontSize: '12px' },
  h: { background: '#8a2012', color: '#ffe0d0', fontSize: '12px' },
  b: { background: '#1f4fa0', color: '#ffffff', fontSize: '12px' }
};
events.forEach(e => {
  const w = e[1].length * 12 + (e[2] === 'd' ? -4 : 1);
  const cx = px.getPixelForValue(e[0]);
  el(e[1], Object.assign({ left: Math.round(cx - w / 2) + 'px', top: '378px', width: w + 'px', height: '14px',
    lineHeight: '14px', textAlign: 'center' }, flagStyle[e[2]]));
});

// indicator legend
el('&#8964;', { left: '3px', top: '398px', width: '11px', height: '11px', borderRadius: '6px', background: '#6e6e6e',
                color: '#222', fontSize: '10px', lineHeight: '8px', textAlign: 'center', fontWeight: 'bold' });
const lastVal = arr => arr[arr.length - 1][1].toFixed(2);
el('股朋指标网', { left: '18px', top: '396px', fontSize: '12px', color: '#b4b4b4', lineHeight: '16px' });
el('主力线: ' + lastVal(mainForce), { left: '83px', top: '396px', fontSize: '12px', color: '#1ee6e6', lineHeight: '16px' });
el('股价线: ' + lastVal(stockLine), { left: '154px', top: '396px', fontSize: '12px', color: '#ffff00', lineHeight: '16px' });
el('散户线: ' + lastVal(retailLine), { left: '225px', top: '396px', fontSize: '12px', color: '#ff00ff', lineHeight: '16px' });

// date axis
const ix = indChart.scales.x;
hline(0, 1130, 631);
hline(0, 1130, 648);
monthStarts.forEach((m, k) => {
  const x0 = Math.max(Math.round(ix.getPixelForValue(m - 0.5)), 0);
  vline(x0, 631, 648);
  el(monthLabels[k], { left: (x0 + 3) + 'px', top: '632px', fontSize: '13px', color: '#ff3030', lineHeight: '16px' });
  const next = k + 1 < monthStarts.length ? monthStarts[k + 1] : n;
  for (let t = m + 5; t < next - 2; t += 5) {
    vline(Math.round(ix.getPixelForValue(t - 0.5)), 632, 636);
  }
});
const cx0 = Math.round(ix.getPixelForValue(cursorIdx - 0.5));
el(cursorDate, { left: cx0 + 'px', top: '632px', width: '78px', height: '15px', background: '#0c0c8c',
  color: '#d0d0ff', fontSize: '13px', lineHeight: '15px', paddingLeft: '1px' });

// watermark
el('', { left: '978px', top: '601px', width: '152px', height: '49px', background: '#000' });
el('乐淘公式网', { left: '998px', top: '608px', fontSize: '21px', fontWeight: 'bold', color: '#f4f4f4', lineHeight: '26px',
  fontFamily: '"Noto Sans CJK SC"' });
el('www.60lt.com', { left: '1002px', top: '634px', fontSize: '14px', fontWeight: 'bold', color: '#f4f4f4', lineHeight: '16px',
  fontFamily: '"Liberation Serif"' });
</script>
</body>
</html>
